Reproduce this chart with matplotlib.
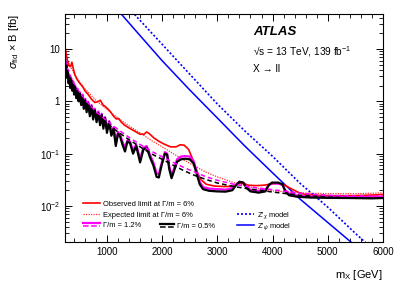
import matplotlib
matplotlib.use("Agg")
import matplotlib.pyplot as plt
from matplotlib.ticker import FixedLocator, MultipleLocator, LogLocator, FuncFormatter, NullFormatter
from matplotlib.legend_handler import HandlerBase
from matplotlib.lines import Line2D

plt.rcParams['font.family'] = ['Liberation Sans', 'DejaVu Sans']
plt.rcParams['mathtext.fontset'] = 'custom'
plt.rcParams['mathtext.rm'] = 'Liberation Sans'
plt.rcParams['mathtext.it'] = 'Liberation Sans:italic'
plt.rcParams['mathtext.bf'] = 'Liberation Sans:bold'

# Z' model cross sections
m_model = [1200, 1500, 2000, 2500, 3000, 3500, 4000, 4500, 5000, 5500, 6000]
zpsi = [55, 23.8, 5.97, 1.65, 0.48, 0.139, 0.043, 0.0135, 0.00484, 0.00174, 0.00063]
zchi = [110, 45.7, 12.3, 3.3, 0.89, 0.27, 0.089, 0.027, 0.0095, 0.0030, 0.0010]

# observed limit, Gamma/m = 6%
m_obs6 = [240, 262, 285, 310, 340, 365, 390, 420, 460, 510, 560, 600, 660, 720, 780,
          830, 880, 930, 980, 1050, 1120, 1170, 1210, 1260, 1320, 1400, 1500, 1600,
          1670, 1720, 1770, 1850, 1950, 2050, 2150, 2250, 2330, 2400, 2480, 2560,
          2630, 2700, 2800, 2950, 3150, 3300, 3400, 3480, 3560, 3700, 3850, 3980,
          4100, 4220, 4350, 4480, 4600, 4800, 5100, 5500, 5800, 6000]
obs6 = [11, 8, 6, 4.8, 4.6, 5.6, 4.2, 3.2, 2.6, 2.2, 1.9, 1.6, 1.35, 1.1, 0.95,
        0.98, 1.05, 0.85, 0.78, 0.66, 0.52, 0.46, 0.47, 0.4, 0.35, 0.31, 0.27, 0.235,
        0.235, 0.26, 0.24, 0.2, 0.17, 0.15, 0.135, 0.135, 0.148, 0.145, 0.12, 0.075,
        0.045, 0.032, 0.026, 0.024, 0.0235, 0.024, 0.027, 0.027, 0.025, 0.0245, 0.025, 0.0265,
        0.027, 0.025, 0.021, 0.018, 0.0165, 0.016, 0.0157, 0.0158, 0.0162, 0.0166]

# expected limits
m_exp = [240, 300, 400, 500, 600, 700, 800, 900, 1000, 1200, 1400, 1600, 1800, 2000,
         2200, 2400, 2600, 2800, 3000, 3300, 3600, 4000, 4500, 5000, 5500, 6000]
exp6 = [8, 5.5, 3.5, 2.4, 1.75, 1.35, 1.05, 0.85, 0.7, 0.48, 0.34, 0.25, 0.18, 0.135,
        0.1, 0.075, 0.057, 0.044, 0.036, 0.028, 0.023, 0.0195, 0.0178, 0.0172, 0.0172, 0.0178]
exp12 = [6, 3.8, 2.2, 1.5, 1.08, 0.82, 0.64, 0.52, 0.42, 0.29, 0.205, 0.15, 0.112, 0.087,
         0.068, 0.054, 0.044, 0.036, 0.031, 0.026, 0.023, 0.0205, 0.0175, 0.016, 0.0155, 0.0155]
exp05 = [5.5, 3.4, 2.0, 1.35, 0.98, 0.74, 0.58, 0.47, 0.38, 0.26, 0.185, 0.135, 0.1, 0.078,
         0.06, 0.047, 0.038, 0.032, 0.0275, 0.0235, 0.021, 0.0185, 0.016, 0.0148, 0.0143, 0.0143]

# observed limits, Gamma/m = 1.2% and 0.5%
m_obs = [240, 252, 264, 278, 292, 306, 320, 336, 352, 370, 388, 406, 424, 444, 464, 486,
         508, 532, 556, 580, 606, 632, 660, 690, 720, 750, 780, 812, 844, 876, 905, 935,
         965, 1000, 1040, 1080, 1120, 1160, 1200, 1240, 1280, 1327, 1370, 1418, 1473, 1530,
         1600, 1660, 1720, 1780, 1840, 1900, 1940, 1990, 2050, 2090, 2130, 2170, 2210, 2270,
         2340, 2420, 2500, 2570, 2630, 2680, 2740, 2850, 3000, 3150, 3270, 3340, 3400, 3470,
         3530, 3600, 3750, 3870, 3930, 3990, 4100, 4180, 4230, 4300, 4450, 4700, 5000, 5400,
         5800, 6000]
obs05 = [6.5, 3.6, 5.0, 2.8, 3.6, 2.2, 3.0, 1.8, 2.5, 1.6, 2.2, 1.35, 1.85, 1.15, 1.6, 1.0,
         1.4, 0.85, 1.25, 0.72, 1.05, 0.62, 0.92, 0.52, 0.8, 0.45, 0.68, 0.4, 0.6, 0.35, 0.55, 0.3,
         0.48, 0.25, 0.4, 0.22, 0.3, 0.14, 0.24, 0.21, 0.15, 0.11, 0.17, 0.16, 0.1, 0.14,
         0.068, 0.12, 0.13, 0.085, 0.06, 0.036, 0.035, 0.06, 0.1, 0.095, 0.05, 0.034, 0.045, 0.07,
         0.078, 0.08, 0.078, 0.065, 0.04, 0.026, 0.021, 0.0195, 0.019, 0.0188, 0.02, 0.025, 0.029, 0.028,
         0.022, 0.019, 0.018, 0.019, 0.025, 0.028, 0.028, 0.026, 0.019, 0.016, 0.015, 0.0145, 0.0143, 0.0142,
         0.014, 0.0142]
obs12 = [7.5, 4.2, 5.4, 3.2, 3.9, 2.5, 3.2, 2.1, 2.7, 1.8, 2.4, 1.55, 2.0, 1.3, 1.75, 1.15,
         1.5, 0.97, 1.35, 0.82, 1.12, 0.7, 0.98, 0.6, 0.85, 0.52, 0.72, 0.46, 0.64, 0.4, 0.58, 0.35,
         0.5, 0.3, 0.42, 0.26, 0.32, 0.17, 0.26, 0.23, 0.17, 0.13, 0.18, 0.17, 0.115, 0.15,
         0.08, 0.13, 0.14, 0.095, 0.068, 0.042, 0.041, 0.066, 0.107, 0.1, 0.056, 0.039, 0.05, 0.078,
         0.088, 0.09, 0.088, 0.072, 0.045, 0.029, 0.023, 0.0215, 0.021, 0.0205, 0.022, 0.026, 0.029, 0.028,
         0.023, 0.0205, 0.0195, 0.0205, 0.025, 0.027, 0.027, 0.025, 0.02, 0.0172, 0.0158, 0.0152, 0.015, 0.0148,
         0.0148, 0.015]

RED, MAG, BLUE = "#ff0000", "#ff00ff", "#0000ff"


class TwoLines(HandlerBase):
    # legend symbol: observed line above, expected line below
    def create_artists(self, legend, handle, xd, yd, w, h, fs, trans):
        out = []
        for ln, f in zip(handle, (0.8, 0.2)):
            out.append(Line2D([-xd, -xd + w], [-yd + h * f] * 2, color=ln.get_color(),
                              ls=ln.get_linestyle(), lw=ln.get_linewidth(), transform=trans))
        return out


fig = plt.figure(figsize=(4.03, 2.89), dpi=100)
ax = fig.add_axes([0.1613, 0.1626, 0.789, 0.789])

hchi, = ax.plot(m_model, zchi, color=BLUE, lw=1.2, ls=(0, (1.2, 1.2)))
hpsi, = ax.plot(m_model, zpsi, color=BLUE, lw=1.1)
hexp6, = ax.plot(m_exp, exp6, color=RED, lw=0.9, ls=(0, (1, 1)), alpha=0.8)
hobs6, = ax.plot(m_obs6, obs6, color=RED, lw=1.2)
hobs12, = ax.plot(m_obs, obs12, color=MAG, lw=1.6)
hobs05, = ax.plot(m_obs, obs05, color="black", lw=1.6)
hexp12, = ax.plot(m_exp, exp12, color=MAG, lw=1.1, ls=(0, (3, 2)))
hexp05, = ax.plot(m_exp, exp05, color="black", lw=1.1, ls=(0, (3, 2)))

ax.set_yscale("log")
ax.set_xlim(240, 6000)
ax.set_ylim(0.00205, 46.7)

ax.xaxis.set_major_locator(FixedLocator([1000, 2000, 3000, 4000, 5000, 6000]))
ax.xaxis.set_minor_locator(MultipleLocator(200))
ax.yaxis.set_major_locator(FixedLocator([0.01, 0.1, 1, 10]))
ax.yaxis.set_minor_locator(LogLocator(base=10, subs=range(2, 10), numticks=20))
ax.yaxis.set_minor_formatter(NullFormatter())
ylab = {0.01: "$10^{-2}$", 0.1: "$10^{-1}$", 1: "1", 10: "10"}
ax.yaxis.set_major_formatter(FuncFormatter(lambda v, p: ylab.get(round(v, 3), "")))
ax.tick_params(which="both", direction="in", top=True, right=True, labelsize=7)
ax.tick_params(which="major", length=5, width=0.7)
ax.tick_params(which="minor", length=2.6, width=0.6)
for s in ax.spines.values():
    s.set_linewidth(0.8)

fig.text(0.035, 0.952, r"$\sigma_{\rm fid}$ × B [fb]", rotation=90, ha="center", va="top", fontsize=8)
fig.text(0.95, 0.048, r"m$_{\rm X}$ [GeV]", ha="right", va="center", fontsize=8)

ax.text(0.591, 0.921, "ATLAS", transform=ax.transAxes, fontsize=9.5, fontweight="bold",
        style="italic", va="center")
ax.text(0.591, 0.833, r"√s = 13 TeV, 139 fb$^{-1}$", transform=ax.transAxes, fontsize=7.3, va="center")
ax.text(0.591, 0.759, "X → ll", transform=ax.transAxes, fontsize=7.3, va="center")

fs = 5.4
common = dict(frameon=False, fontsize=fs, borderpad=0, borderaxespad=0, handletextpad=0.4,
              loc="upper left", handler_map={tuple: TwoLines()})
leg1 = ax.legend([hobs6, hexp6, (hobs12, hexp12)],
                 ["Observed limit at Γ/m = 6%", "Expected limit at Γ/m = 6%", "Γ/m = 1.2%"],
                 bbox_to_anchor=(0.057, 0.181), handlelength=2.2, labelspacing=0.45, **common)
ax.add_artist(leg1)
leg2 = ax.legend([(hobs05, hexp05)], ["Γ/m = 0.5%"], bbox_to_anchor=(0.299, 0.083),
                 handlelength=1.8, **common)
ax.add_artist(leg2)
ax.legend([hchi, hpsi], [r"Z'$_{\chi}$ model", r"Z'$_{\psi}$ model"], bbox_to_anchor=(0.541, 0.14),
          handlelength=2.2, labelspacing=0.05, **common)

fig.savefig("out.png", dpi=100)
